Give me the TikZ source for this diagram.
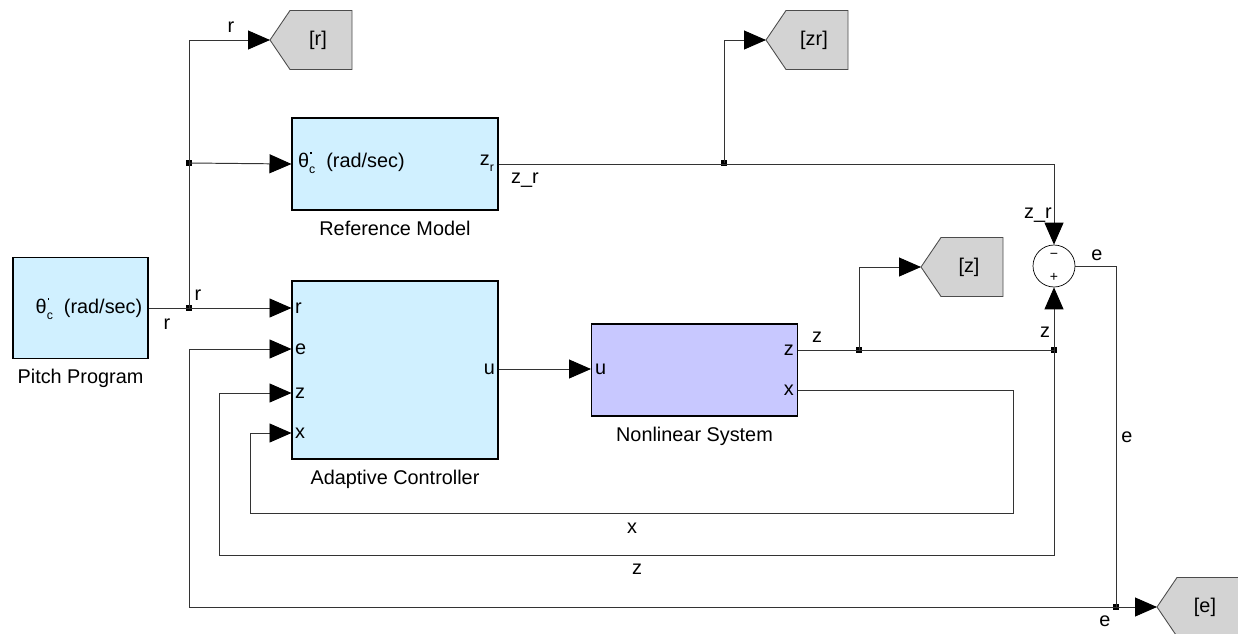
\documentclass[tikz,border=0pt]{standalone}
\usepackage{fontspec}
\setmainfont{Liberation Sans}
\usetikzlibrary{arrows.meta,positioning}

\definecolor{celeste}{RGB}{208,240,255}
\definecolor{lila}{RGB}{200,200,255}
\definecolor{gris}{RGB}{211,211,211}

% theta con punto y subindice c
\newcommand{\tetac}{θ\rlap{\hspace{0.6pt}\raisebox{1.25ex}{\rule{0.8pt}{0.9pt}}}\raisebox{-0.6ex}{\scriptsize c}}

% etiqueta goto: nombre, punta, texto
\newcommand{\etiqueta}[3]{%
  \coordinate (#1) at #2;
  \filldraw[etiqborde] (#1) -- ++(20,-29.5) -- ++(62,0) -- ++(0,59) -- ++(-62,0) -- cycle;
  \node[inner sep=0pt] (#1-t) at ([xshift=0.96cm]#1) {#3};}

\tikzset{
  bloque/.style={draw=black, fill=celeste, line width=0.6pt, inner sep=0pt},
  nombre/.style={inner sep=0pt, below=0.2cm of #1},
  puerto/.style={inner sep=1pt},
  senal/.style={inner sep=1pt},
  linea/.style={draw=black!80, line width=0.55pt},
  flecha/.style={linea, -{Triangle[length=0.44cm,width=0.38cm,color=black]}},
  junta/.style={fill=black, inner sep=0pt, minimum size=0.11cm},
  etiqborde/.style={draw=black!70, fill=gris, line width=0.5pt}
}

\begin{document}
\begin{tikzpicture}[x=0.02cm, y=-0.02cm, font=\fontsize{11.3}{13}\selectfont]
\useasboundingbox (0,0) rectangle (1238,633);

%bloques del sistema
\node[bloque, minimum width=2.7cm, minimum height=2.02cm] (pitch) at (80.5,308) {};
\node[bloque, minimum width=4.12cm, minimum height=1.84cm] (refmodel) at (395,164) {};
\node[bloque, minimum width=4.12cm, minimum height=3.56cm] (adapt) at (395,370) {};
\node[bloque, fill=lila, minimum width=4.12cm, minimum height=1.84cm] (planta) at (694.5,370) {};
\node[draw=black, fill=white, circle, minimum size=0.84cm, inner sep=0pt] (suma) at (1054,266) {};

%nombres de los bloques
\node[nombre=pitch] {Pitch Program};
\node[nombre=refmodel] {Reference Model};
\node[nombre=adapt] {Adaptive Controller};
\node[nombre=planta] {Nonlinear System};

%textos dentro de los bloques
\node[puerto] (ppitch) at (89,309) {\tetac\ \ (rad/sec)};
\node[puerto, anchor=west] (pref) at (296,163) {\tetac\ \ (rad/sec)};
\node[puerto, anchor=east] (pzr) at (496,163) {z\raisebox{-0.6ex}{\scriptsize r}};
\node[puerto, anchor=west] (ar) at (293,308) {r};
\node[puerto, anchor=west] (ae) at (293,349) {e};
\node[puerto, anchor=west] (az) at (293,393) {z};
\node[puerto, anchor=west] (ax) at (293,433) {x};
\node[puerto, anchor=east] (au) at (497,369) {u};
\node[puerto, anchor=west] (nu) at (593,369) {u};
\node[puerto, anchor=east] (nz) at (796,350) {z};
\node[puerto, anchor=east] (nx) at (796,390) {x};
\node[font=\fontsize{8}{9}\selectfont, inner sep=0pt] (menos) at (1054,256) {−};
\node[font=\fontsize{8}{9}\selectfont, inner sep=0pt] (mas) at (1054,277) {+};

%etiquetas goto
\etiqueta{tagr}{(270,40)}{[r]}
\etiqueta{tagzr}{(766,40)}{[zr]}
\etiqueta{tagz}{(921,267)}{[z]}
\etiqueta{tage}{(1157,607)}{[e]}

%puntos de bifurcacion
\node[junta] (jr) at (189,308) {};
\node[junta] (jm) at (189,163) {};
\node[junta] (jzr) at (724,163) {};
\node[junta] (jz1) at (859,350) {};
\node[junta] (jz2) at (1054,350) {};
\node[junta] (je) at (1116,607) {};

%senal r
\draw[linea] (pitch.east) -- (jr.center);
\draw[flecha] (jr.center) -- (adapt.west |- jr);
\draw[flecha] (jr.center) |- (tagr);
\draw[flecha] (jm.center) -- (refmodel.west);

%senal z_r
\draw[flecha] (refmodel.east) -| (suma.north);
\draw[flecha] (jzr.center) |- (tagzr);

%senal u
\draw[flecha] (adapt.east |- au) -- (planta.west |- au);

%senal z
\draw[linea] (planta.east |- nz) -- (jz2.center);
\draw[flecha] (jz2.center) -- (suma.south);
\draw[flecha] (jz1.center) |- (tagz);
\draw[flecha] (jz2.center) |- (219,555) |- (adapt.west |- az);

%senal x
\draw[flecha] (planta.east |- nx) -| (1013,513) -| (250,433) -- (adapt.west |- ax);

%senal e
\draw[linea] (suma.east) -| (je.center);
\draw[flecha] (je.center) -- (tage);
\draw[flecha] (je.center) -| (189,349) -- (adapt.west |- ae);

%nombres de las senales
\node[senal] (lr1) at (167,324) {r};
\node[senal] (lr2) at (198,295) {r};
\node[senal] (lr3) at (231,27) {r};
\node[senal] (lzr1) at (525,180) {z\_r};
\node[senal] (lzr2) at (1038,215) {z\_r};
\node[senal] (le1) at (1097,255) {e};
\node[senal] (lz1) at (817,337) {z};
\node[senal] (lz2) at (1045,332) {z};
\node[senal] (le2) at (1127,437) {e};
\node[senal] (lx) at (632,528) {x};
\node[senal] (lz3) at (637,569) {z};
\node[senal] (le3) at (1105,621) {e};
\end{tikzpicture}
\end{document}
